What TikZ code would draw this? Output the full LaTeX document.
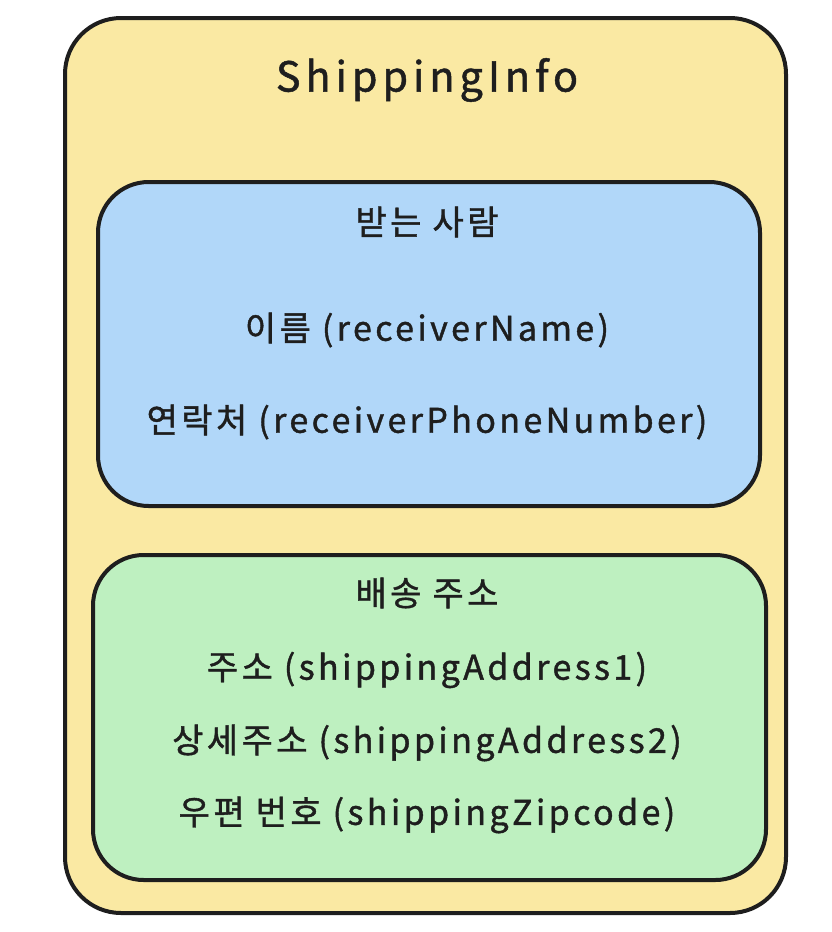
\documentclass[tikz,border=0pt]{standalone}
\usepackage{fontspec}
\setmainfont{Noto Sans CJK KR}
\newfontfamily\titlefont[LetterSpace=12,FakeBold=1.2]{Noto Sans CJK KR}
\newfontfamily\itemfont[LetterSpace=10,FakeBold=1.2]{Noto Sans CJK KR}
\definecolor{ink}{HTML}{1E1E1E}
\definecolor{yel}{HTML}{FAE9A3}
\definecolor{blu}{HTML}{B1D7F9}
\definecolor{grn}{HTML}{BEF0C0}
\tikzset{
  box/.style={draw=ink, line width=3pt, rounded corners=42pt},
  title/.style={text=ink, font=\titlefont\fontsize{31}{37}\selectfont},
  item/.style={text=ink, font=\itemfont\fontsize{25.5}{30}\selectfont},
}
\begin{document}
\begin{tikzpicture}[x=0.75pt,y=-0.75pt]
\useasboundingbox (0,0) rectangle (832,932);
\draw[box, fill=yel] (65,18) rectangle (786,913);
\draw[box, fill=blu, rounded corners=38pt] (98,182) rectangle (760,506);
\draw[box, fill=grn, rounded corners=38pt] (93,555) rectangle (766,880);
\node[title] (t) at (427,80) {ShippingInfo};
\node[item] (h1) at (427,222) {받는 사람};
\node[item] (a1) at (427,330) {이름 (receiverName)};
\node[item] (a2) at (427,422) {연락처 (receiverPhoneNumber)};
\node[item] (h2) at (427,593) {배송 주소};
\node[item] (b1) at (427,670) {주소 (shippingAddress1)};
\node[item] (b2) at (427,743) {상세주소 (shippingAddress2)};
\node[item] (b3) at (427,815) {우편 번호 (shippingZipcode)};
\end{tikzpicture}
\end{document}
